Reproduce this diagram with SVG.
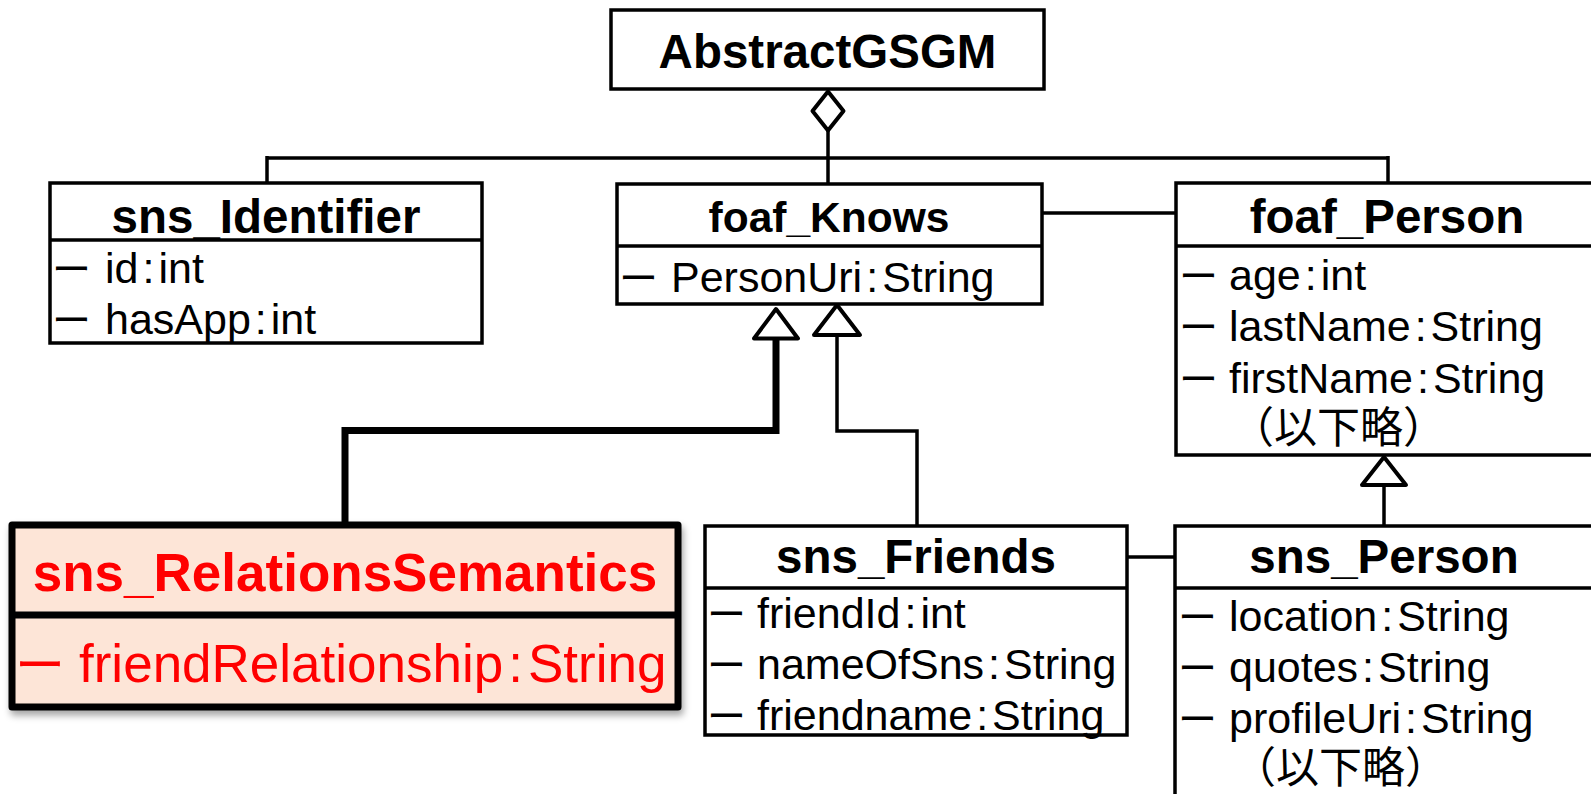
<svg xmlns="http://www.w3.org/2000/svg" width="1591" height="794" viewBox="0 0 1591 794">
<style>
.box{fill:#fff;stroke:#000;stroke-width:3.5}
.hd{font-family:"Liberation Sans",Arial,sans-serif;font-weight:bold;font-size:47.5px;text-anchor:middle;fill:#000}
.at{font-family:"Liberation Sans",Arial,"Noto Sans CJK JP",sans-serif;font-size:43px;fill:#000}
.dash{font-family:"Noto Sans CJK JP",sans-serif;font-size:39px}
.cjk{font-family:"Noto Sans CJK JP",sans-serif}
.ln{fill:none;stroke:#000;stroke-width:3.5}
.tri{fill:#fff;stroke:#000;stroke-width:4;stroke-linejoin:round}
.red{fill:#ff0000}
</style>
<defs>
<filter id="sh" x="-5%" y="-10%" width="115%" height="130%">
<feDropShadow dx="2" dy="5" stdDeviation="3.5" flood-color="#000" flood-opacity="0.35"/>
</filter>
</defs>

<g id="connectors">
<line class="ln" x1="267" y1="158" x2="1388" y2="158"/>
<line class="ln" x1="267" y1="156" x2="267" y2="184"/>
<line class="ln" x1="1388" y1="156" x2="1388" y2="184"/>
<line class="ln" x1="828" y1="130" x2="828" y2="184"/>
<polygon class="tri" points="828,91.5 843.5,111 828,130.5 812.5,111" stroke-width="3.5"/>
<line class="ln" x1="1042" y1="213" x2="1176" y2="213"/>
<line class="ln" x1="1127" y1="557" x2="1175" y2="557"/>
<polyline class="ln" points="917,526 917,431 837,431 837,334"/>
<polygon class="tri" points="837,305 860,335 814,335"/>
<polyline fill="none" stroke="#000" stroke-width="7" points="345,525 345,430.5 776,430.5 776,336"/>
<polygon class="tri" stroke-width="7" points="776,309 798,338.5 754,338.5"/>
<line class="ln" x1="1384" y1="484" x2="1384" y2="527"/>
<polygon class="tri" points="1384,457 1406,485 1362,485"/>
</g>

<g id="AbstractGSGM">
<rect class="box" x="611" y="10" width="433" height="79"/>
<text class="hd" x="827.5" y="68">AbstractGSGM</text>
</g>

<g id="sns_Identifier">
<rect class="box" x="50" y="183" width="432" height="160"/>
<line class="ln" x1="50" y1="240" x2="482" y2="240"/>
<text class="hd" x="266" y="233">sns_Identifier</text>
<text class="at"><tspan class="dash" x="52" y="283">ー</tspan><tspan x="105" y="283">id<tspan dx="4">:</tspan><tspan dx="4">int</tspan></tspan></text>
<text class="at"><tspan class="dash" x="52" y="334">ー</tspan><tspan x="105" y="334">hasApp<tspan dx="4">:</tspan><tspan dx="4">int</tspan></tspan></text>
</g>

<g id="foaf_Knows">
<rect class="box" x="617" y="184" width="425" height="120"/>
<line class="ln" x1="617" y1="246" x2="1042" y2="246"/>
<text class="hd" x="829" y="232" style="font-size:42.5px">foaf_Knows</text>
<text class="at"><tspan class="dash" x="619" y="292">ー</tspan><tspan x="671" y="292">PersonUri<tspan dx="4">:</tspan><tspan dx="4">String</tspan></tspan></text>
</g>

<g id="foaf_Person">
<rect class="box" x="1176" y="183" width="430" height="272"/>
<line class="ln" x1="1176" y1="246" x2="1606" y2="246"/>
<text class="hd" x="1387" y="233">foaf_Person</text>
<text class="at"><tspan class="dash" x="1179" y="290">ー</tspan><tspan x="1229" y="290">age<tspan dx="4">:</tspan><tspan dx="4">int</tspan></tspan></text>
<text class="at"><tspan class="dash" x="1179" y="341">ー</tspan><tspan x="1229" y="341">lastName<tspan dx="4">:</tspan><tspan dx="4">String</tspan></tspan></text>
<text class="at"><tspan class="dash" x="1179" y="393">ー</tspan><tspan x="1229" y="393">firstName<tspan dx="4">:</tspan><tspan dx="4">String</tspan></tspan></text>
<text class="at cjk" x="1231" y="443">（以下略）</text>
</g>

<g id="sns_RelationsSemantics">
<rect x="12" y="525" width="666" height="182" fill="#fde5d7" stroke="#000" stroke-width="7" stroke-linejoin="round" filter="url(#sh)"/>
<line x1="12" y1="615" x2="678" y2="615" stroke="#000" stroke-width="7"/>
<text class="hd red" x="345" y="591" style="font-size:53px;fill:#ff0000">sns_RelationsSemantics</text>
<text class="at red" style="font-size:53px"><tspan class="dash" x="15" y="682.5" style="font-size:50px">ー</tspan><tspan x="79" y="682">friendRelationship<tspan dx="5">:</tspan><tspan dx="5">String</tspan></tspan></text>
</g>

<g id="sns_Friends">
<rect class="box" x="705" y="526" width="422" height="209"/>
<line class="ln" x1="705" y1="588" x2="1127" y2="588"/>
<text class="hd" x="916" y="573">sns_Friends</text>
<text class="at"><tspan class="dash" x="707" y="628">ー</tspan><tspan x="757" y="628">friendId<tspan dx="4">:</tspan><tspan dx="4">int</tspan></tspan></text>
<text class="at"><tspan class="dash" x="707" y="679">ー</tspan><tspan x="757" y="679">nameOfSns<tspan dx="4">:</tspan><tspan dx="4">String</tspan></tspan></text>
<text class="at"><tspan class="dash" x="707" y="730">ー</tspan><tspan x="757" y="730">friendname<tspan dx="4">:</tspan><tspan dx="4">String</tspan></tspan></text>
</g>

<g id="sns_Person">
<rect class="box" x="1175" y="526" width="430" height="290"/>
<line class="ln" x1="1175" y1="588" x2="1605" y2="588"/>
<text class="hd" x="1384" y="573">sns_Person</text>
<text class="at"><tspan class="dash" x="1178" y="631">ー</tspan><tspan x="1229" y="631">location<tspan dx="4">:</tspan><tspan dx="4">String</tspan></tspan></text>
<text class="at"><tspan class="dash" x="1178" y="682">ー</tspan><tspan x="1229" y="682">quotes<tspan dx="4">:</tspan><tspan dx="4">String</tspan></tspan></text>
<text class="at"><tspan class="dash" x="1178" y="733">ー</tspan><tspan x="1229" y="733">profileUri<tspan dx="4">:</tspan><tspan dx="4">String</tspan></tspan></text>
<text class="at cjk" x="1233" y="783">（以下略）</text>
</g>
</svg>
